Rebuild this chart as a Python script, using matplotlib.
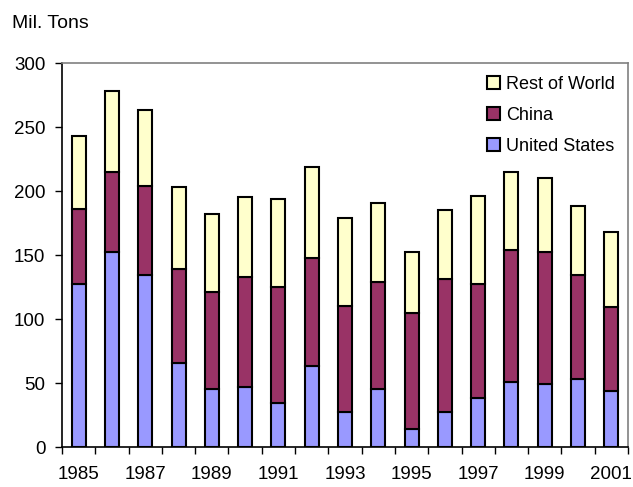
import numpy as np
import matplotlib.pyplot as plt

plt.rcParams['font.family'] = ['Liberation Sans', 'DejaVu Sans']

years = list(range(1985, 2002))
us = [127, 152, 134, 66, 45, 47, 34, 63, 27, 45, 14, 27, 38, 51, 49, 53, 44]
china_top = [186, 215, 204, 139, 121, 133, 125, 148, 110, 129, 105, 131, 127, 154, 152, 134, 109]
total = [243, 278, 263, 203, 182, 195, 194, 219, 179, 191, 152, 185, 196, 215, 210, 188, 168]

us = np.array(us)
china = np.array(china_top) - us
rest = np.array(total) - np.array(china_top)

fig = plt.figure(figsize=(6.33, 4.87), dpi=100)
ax = fig.add_axes([62 / 633, 40 / 487, 566 / 633, 384 / 487])

x = np.arange(len(years))
w = 0.42
kw = dict(width=w, edgecolor='black', linewidth=1.5)
b_us = ax.bar(x, us, color='#9999FF', label='United States', **kw)
b_ch = ax.bar(x, china, bottom=us, color='#993366', label='China', **kw)
b_rw = ax.bar(x, rest, bottom=us + china, color='#FFFFCC', label='Rest of World', **kw)

ax.set_xlim(-0.5, len(years) - 0.5)
ax.set_ylim(0, 300)
ax.set_yticks(range(0, 301, 50))
ax.tick_params(axis='y', direction='out', length=5, width=1, labelsize=13.5, pad=7)

ax.set_xticks(x[::2])
ax.set_xticklabels([str(y) for y in years[::2]])
ax.set_xticks(np.arange(-0.5, len(years), 1), minor=True)
ax.tick_params(axis='x', which='major', length=0, labelsize=13.5, pad=14)
ax.tick_params(axis='x', which='minor', direction='out', length=5, width=1)

for s in ['top', 'right']:
    ax.spines[s].set_color('#808080')
    ax.spines[s].set_linewidth(1.2)
for s in ['left', 'bottom']:
    ax.spines[s].set_color('black')
    ax.spines[s].set_linewidth(1.2)

ax.legend(handles=[b_rw, b_ch, b_us], loc='upper right', frameon=False,
          fontsize=13, handlelength=0.75, handleheight=0.75, handletextpad=0.35,
          labelspacing=0.78, borderaxespad=0.3, bbox_to_anchor=(1.0, 1.0))

fig.text(12 / 633, 1 - 23 / 487, 'Mil. Tons', fontsize=14, va='center', ha='left')

fig.savefig('out.png', dpi=100)
